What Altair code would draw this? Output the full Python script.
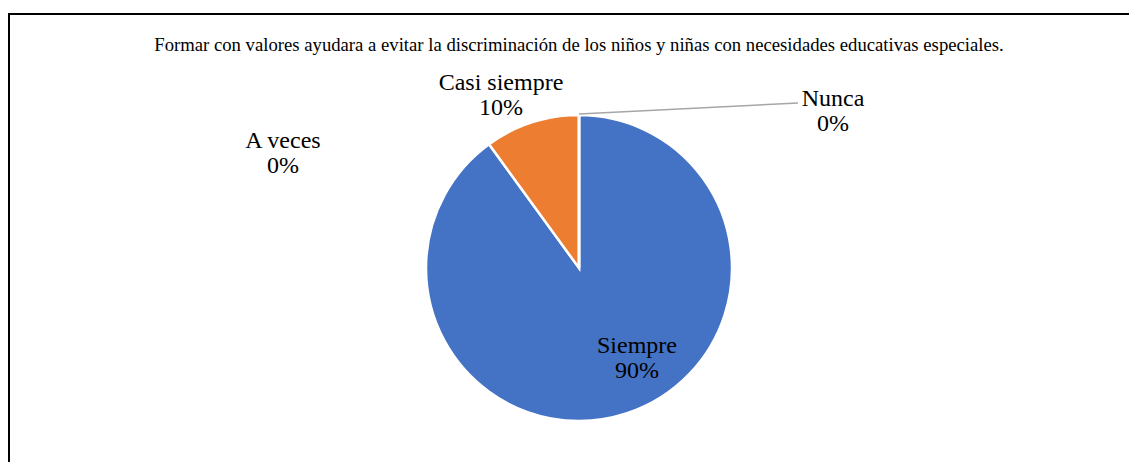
import altair as alt
import pandas as pd

# ---- data ----
categorias = ["Siempre", "Casi siempre", "A veces", "Nunca"]
valores = [90, 10, 0, 0]
titulo = "Formar con valores ayudara a evitar la discriminación de los niños y niñas con necesidades educativas especiales."

# ---- layout (pixels, relative to chart origin) ----
W, H = 1121, 454
CX, CY, R = 571, 260, 153
LINE_H = 25
# label block offsets from pie centre (Excel "best fit" placement)
label_dx = [58, -78, -296, 254]
label_dy = [90, -173, -115, -157]

colores = ["#4472C4", "#ED7D31", "#A5A5A5", "#FFC000"]
FONT = "Liberation Serif"

df = pd.DataFrame({"cat": categorias, "val": valores, "orden": range(len(categorias))})
lab = pd.DataFrame({"cat": categorias, "val": valores, "dx": label_dx, "dy": label_dy})

color_scale = alt.Scale(domain=categorias, range=colores)

border = alt.Chart(pd.DataFrame({"a": [0]})).mark_rect(
    fill="white", stroke="black", strokeWidth=2
).encode(x=alt.value(1), x2=alt.value(W + 20), y=alt.value(6), y2=alt.value(H + 20))

pie = alt.Chart(df).mark_arc(
    radius=R, stroke="white", strokeWidth=2.5
).encode(
    theta=alt.Theta("val:Q", stack=True),
    color=alt.Color("cat:N", scale=color_scale, legend=None),
    order=alt.Order("orden:Q"),
    x=alt.value(CX),
    y=alt.value(CY),
)

total = sum(valores)
labels = alt.Chart(lab).transform_calculate(
    txt="datum.cat + '\\n' + format(datum.val / %d, '.0%%')" % total,
    px="%d + datum.dx" % CX,
    py="%f + datum.dy" % (CY - LINE_H / 2),
).mark_text(
    font=FONT, fontSize=24, lineBreak="\n", lineHeight=LINE_H,
    align="center", baseline="middle", color="#000000"
).encode(
    x=alt.X("px:Q", scale=None, axis=None),
    y=alt.Y("py:Q", scale=None, axis=None),
    text="txt:N",
)

# leader line from Nunca's (zero) slice at the top of the pie to its label
ni = categorias.index("Nunca")
leader = alt.Chart(pd.DataFrame({"a": [0]})).mark_rule(
    color="#A6A6A6", strokeWidth=1.5
).encode(
    x=alt.value(CX), y=alt.value(CY - R - 1),
    x2=alt.value(CX + label_dx[ni] - 35), y2=alt.value(CY + label_dy[ni] - 8),
)

title = alt.Chart(pd.DataFrame({"t": [titulo]})).mark_text(
    font=FONT, fontSize=18.7, align="center", baseline="alphabetic", color="#000000"
).encode(x=alt.value(CX), y=alt.value(42.5), text="t:N")

chart = alt.layer(border, pie, leader, labels, title).properties(
    width=W, height=H, autosize=alt.AutoSizeParams(type="none"), padding=0
).configure_view(stroke=None)

chart.save("out.html", embed_options={"renderer": "svg", "actions": False})
